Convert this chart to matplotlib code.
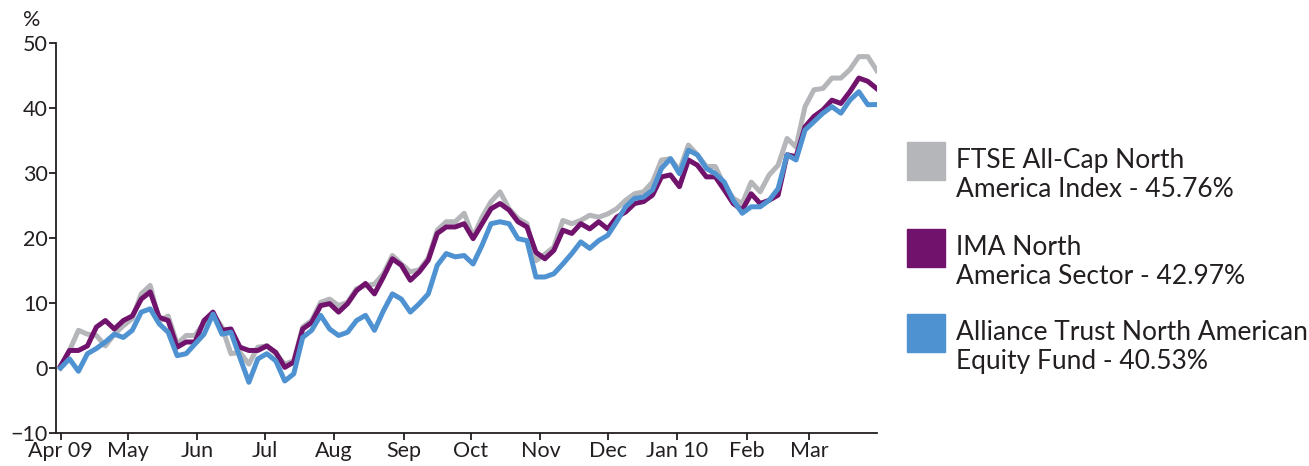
import numpy as np
import pandas as pd
import matplotlib
matplotlib.use("Agg")
import matplotlib.pyplot as plt
import matplotlib.dates as mdates
from matplotlib.patches import Rectangle

plt.rcParams['font.family'] = ['Lato', 'DejaVu Sans']

# sampled every 4 days, 1 Apr 2009 - 31 Mar 2010 (% growth)
dates = pd.date_range('2009-04-01', periods=92, freq='4D')

ftse = [0.0, 2.7, 5.8, 5.2, 5.0, 3.4, 5.2, 6.5, 7.6, 11.4,
        12.7, 7.2, 8.0, 3.7, 5.0, 5.0, 7.0, 8.3, 6.3, 2.2,
        2.4, 0.6, 3.2, 3.4, 2.2, 0.6, 1.1, 6.3, 7.3, 10.1,
        10.6, 9.6, 10.1, 12.2, 12.7, 12.9, 14.5, 17.3, 16.0, 14.8,
        15.1, 16.9, 21.2, 22.5, 22.5, 23.8, 20.2, 23.2, 25.6, 27.1,
        24.5, 23.0, 22.2, 16.5, 17.5, 18.6, 22.7, 22.2, 22.7, 23.5,
        23.2, 23.7, 24.5, 25.8, 26.8, 27.1, 28.6, 32.0, 32.2, 30.4,
        34.3, 32.8, 31.0, 31.0, 28.1, 26.1, 25.3, 28.6, 27.1, 29.7,
        31.2, 35.3, 34.0, 40.2, 42.8, 43.0, 44.6, 44.6, 45.9, 47.9,
        47.9, 45.76]

ima = [0.3, 2.7, 2.7, 3.4, 6.3, 7.3, 6.0, 7.3, 8.0, 10.6,
       11.7, 7.8, 7.3, 3.2, 4.0, 4.0, 7.3, 8.6, 5.8, 6.0,
       3.2, 2.7, 2.7, 3.4, 2.4, 0.1, 0.9, 6.0, 7.0, 9.6,
       9.9, 8.6, 9.9, 11.9, 13.0, 11.4, 14.0, 16.8, 15.8, 13.5,
       14.8, 16.6, 20.7, 21.7, 21.7, 22.2, 19.9, 22.2, 24.5, 25.3,
       24.3, 22.5, 21.7, 17.8, 16.8, 18.1, 21.2, 20.7, 22.2, 21.4,
       22.5, 21.4, 23.2, 24.0, 25.3, 25.6, 26.6, 29.4, 29.7, 27.9,
       32.0, 31.2, 29.4, 29.4, 27.4, 25.3, 24.3, 26.8, 25.3, 25.8,
       26.6, 32.8, 32.5, 37.1, 38.7, 39.7, 41.2, 40.7, 42.5, 44.6,
       44.1, 42.97]

alliance = [0.0, 1.4, -0.5, 2.2, 3.0, 4.0, 5.2, 4.7, 5.8, 8.6,
            9.1, 6.8, 5.5, 1.9, 2.2, 3.7, 5.2, 8.3, 5.2, 5.5,
            1.6, -2.2, 1.4, 2.2, 1.1, -2.0, -0.9, 4.7, 5.8, 8.1,
            6.0, 5.0, 5.5, 7.3, 8.1, 5.8, 8.8, 11.4, 10.6, 8.6,
            9.9, 11.4, 15.8, 17.6, 17.1, 17.3, 16.0, 18.9, 22.2, 22.5,
            22.2, 19.9, 19.6, 14.0, 14.0, 14.5, 16.0, 17.6, 19.4, 18.4,
            19.6, 20.4, 22.5, 24.8, 26.1, 26.3, 27.4, 30.7, 32.2, 29.9,
            33.5, 32.8, 30.7, 29.9, 28.6, 25.8, 23.8, 24.8, 24.8, 25.8,
            27.6, 32.8, 32.0, 36.6, 37.9, 39.2, 40.2, 39.2, 41.2, 42.5,
            40.5, 40.53]

month_labels = ["Apr 09", "May", "Jun", "Jul", "Aug", "Sep", "Oct",
                "Nov", "Dec", "Jan 10", "Feb", "Mar"]
legend_labels = ["FTSE All-Cap North\nAmerica Index - 45.76%",
                 "IMA North\nAmerica Sector - 42.97%",
                 "Alliance Trust North American\nEquity Fund - 40.53%"]

grey = '#b5b6b9'
purple = '#71136d'
blue = '#4f92d1'
txt = '#231f20'

fig = plt.figure(figsize=(13.09, 4.66), dpi=100)
ax = fig.add_axes([0.0428, 0.0708, 0.627, 0.837])

ax.plot(dates, ftse, color=grey, lw=3.6, solid_joinstyle='round')
ax.plot(dates, ima, color=purple, lw=3.6, solid_joinstyle='round')
ax.plot(dates, alliance, color=blue, lw=3.6, solid_joinstyle='round')

ax.set_ylim(-10, 50)
ax.set_yticks(range(-10, 51, 10))
ax.set_xlim(pd.Timestamp('2009-03-30'), pd.Timestamp('2010-03-31'))
month_starts = pd.date_range('2009-04-01', periods=12, freq='MS')
ax.set_xticks(month_starts)
ax.set_xticklabels(month_labels)

for s in ['top', 'right']:
    ax.spines[s].set_visible(False)
for s in ['left', 'bottom']:
    ax.spines[s].set_color(txt)
    ax.spines[s].set_linewidth(1.3)
ax.tick_params(direction='out', length=5, width=1.3, color=txt,
               labelsize=15.5, labelcolor=txt, pad=1)

fig.text(0.0245, 0.957, '%', fontsize=15.5, color=txt, ha='center', va='center')

cols = [grey, purple, blue]
sq_top = [142, 229, 314]
for c, lab, top in zip(cols, legend_labels, sq_top):
    fig.patches.append(Rectangle((907 / 1309, 1 - (top + 38) / 466), 38 / 1309, 38 / 466,
                                 transform=fig.transFigure, color=c))
    fig.text(956 / 1309, 1 - (top + 6) / 466, lab, fontsize=19, color=txt,
             ha='left', va='top', linespacing=1.2)

fig.savefig('out.png', dpi=100)
